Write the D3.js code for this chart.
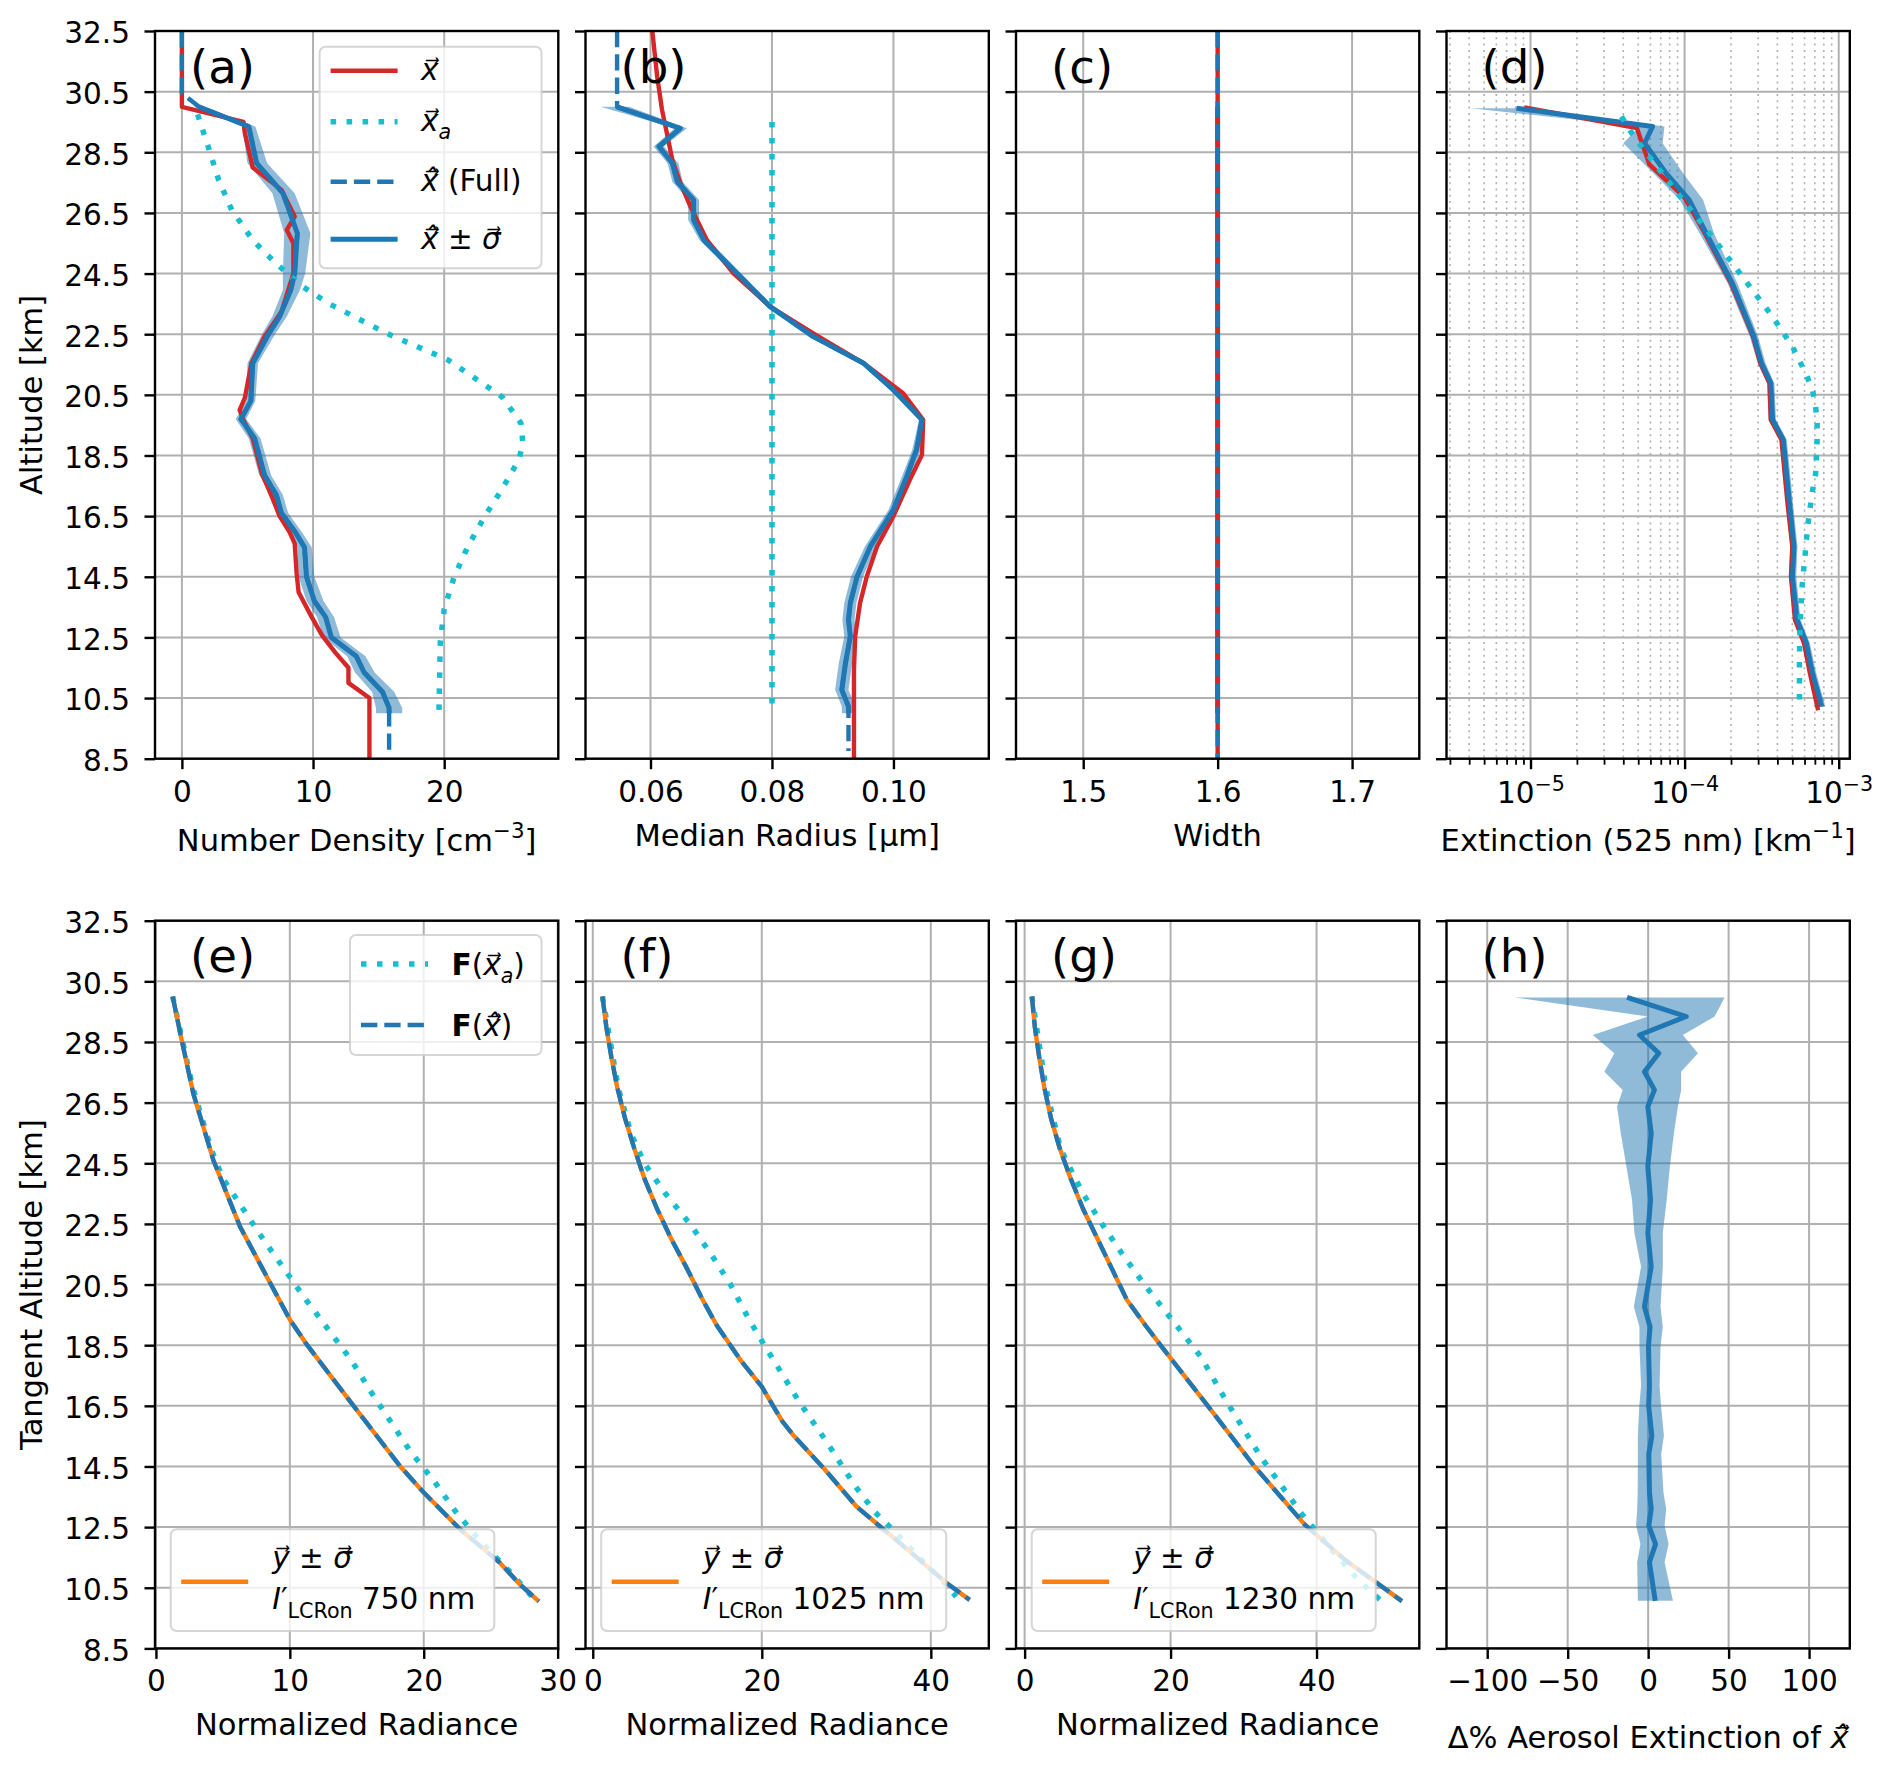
<!DOCTYPE html>
<html>
<head>
<meta charset="utf-8">
<script src="https://cdnjs.cloudflare.com/ajax/libs/d3/7.8.5/d3.min.js"></script>
<style>
body { margin: 0; background: #fff; }
svg text { white-space: pre; }
</style>
</head>
<body>
<script>
// ================= DATA =================
// every profile is [altitude km, value]; bands are [altitude, low, high]
const altTicks = [8.5, 10.5, 12.5, 14.5, 16.5, 18.5, 20.5, 22.5, 24.5, 26.5, 28.5, 30.5, 32.5]

// (a) number density
const densTicks = [0, 10, 20]
const densTruth = [[32.5, 0], [30.0, 0], [29.5, 4.7], [29.13, 4.8], [28.0, 5.4], [27.26, 7.6], [26.38, 8.6], [25.94, 8.0], [25.5, 8.5], [24.5, 8.5], [23.25, 7.6], [22.42, 6.3], [21.54, 5.3], [20.4, 4.8], [20.0, 4.4], [19.66, 4.7], [19.06, 5.4], [17.9, 6.1], [17.1, 6.9], [16.5, 7.45], [15.98, 8.2], [15.6, 8.6], [14.6, 8.75], [13.99, 8.9], [13.17, 9.9], [12.56, 10.7], [12.0, 11.7], [11.5, 12.7], [11.0, 12.7], [10.5, 14.3], [8.5, 14.3]]
const densRetr = [[30.0, 1.3], [29.35, 5.1], [28.14, 5.7], [27.15, 7.7], [25.83, 8.8], [24.5, 8.6], [23.96, 8.3], [23.08, 7.45], [22.5, 6.6], [21.54, 5.4], [20.3, 5.26], [19.7, 4.5], [19.06, 5.55], [17.85, 6.3], [17.2, 7.2], [16.6, 7.6], [16.0, 8.6], [15.47, 9.35], [14.5, 9.5], [13.7, 10.1], [13.17, 10.96], [12.5, 11.4], [11.88, 13.3], [11.34, 13.9], [10.7, 15.3], [10.17, 15.8], [10.0, 15.8]]
const densBand = [[30.0, 0.9, 1.7], [29.35, 4.6, 5.6], [28.14, 5.0, 6.5], [27.15, 6.9, 8.6], [25.83, 7.8, 9.8], [24.5, 7.7, 9.4], [23.96, 7.7, 9.0], [23.08, 6.9, 8.0], [22.5, 6.1, 7.1], [21.54, 5.0, 5.8], [20.3, 4.9, 5.6], [19.7, 4.1, 4.9], [19.06, 5.1, 6.0], [17.85, 5.9, 6.8], [17.2, 6.8, 7.7], [16.6, 7.2, 8.1], [16.0, 8.1, 9.1], [15.47, 8.8, 9.9], [14.5, 8.9, 10.1], [13.7, 9.5, 10.8], [13.17, 10.3, 11.6], [12.5, 10.8, 12.1], [11.88, 12.6, 14.0], [11.34, 13.2, 14.7], [10.7, 14.5, 16.2], [10.17, 14.8, 16.8], [10.0, 14.8, 16.8]]
const densFullTop = [[32.5, 0], [30.45, 0]]
const densFullBottom = [[8.75, 15.8]]
const densApriori = [[29.75, 1.2], [28.63, 2.05], [27.59, 2.8], [26.6, 3.8], [25.6, 5.4], [24.84, 7.16], [24.07, 9.2], [23.5, 11.25], [22.53, 15.6], [21.65, 20.3], [20.44, 24.4], [19.57, 25.85], [18.9, 26.0], [18.37, 25.7], [17.38, 24.4], [16.5, 23.1], [15.5, 21.8], [14.47, 20.74], [13.43, 20.0], [12.33, 19.7], [10.0, 19.6]]

// (b) median radius
const radiusTicks = [0.06, 0.08, 0.10]
const radiusTruth = [[32.5, 0.0603], [31.0, 0.0611], [29.9, 0.0619], [29.13, 0.0627], [28.25, 0.0636], [27.5, 0.0649], [26.7, 0.0666], [25.6, 0.0693], [24.5, 0.0737], [23.41, 0.0797], [22.53, 0.0868], [21.54, 0.0951], [20.55, 0.1016], [19.68, 0.1049], [18.52, 0.1047], [17.7, 0.1027], [16.5, 0.1], [15.5, 0.0973], [14.5, 0.0956], [13.63, 0.0945], [12.53, 0.0937], [11.43, 0.0935], [8.5, 0.0935]]
const radiusRetr = [[30.0, 0.0545], [29.29, 0.0649], [28.69, 0.0614], [28.14, 0.0636], [27.53, 0.0644], [26.93, 0.0671], [26.27, 0.0671], [25.6, 0.0688], [24.62, 0.0737], [23.41, 0.0797], [22.42, 0.0868], [21.54, 0.0951], [20.66, 0.1], [19.68, 0.1047], [18.69, 0.1038], [17.81, 0.1022], [16.71, 0.1], [15.5, 0.0962], [14.5, 0.094], [13.63, 0.0929], [13.08, 0.0926], [12.53, 0.0929], [11.65, 0.0921], [10.77, 0.0915], [10.22, 0.0926], [10.0, 0.0926]]
const radiusBand = [[30.0, 0.0518, 0.0565], [29.29, 0.0640, 0.0660], [28.69, 0.0605, 0.0622], [28.14, 0.0628, 0.0646], [27.53, 0.0636, 0.0653], [26.93, 0.0662, 0.0680], [26.27, 0.0662, 0.0680], [25.6, 0.0681, 0.0696], [24.62, 0.0730, 0.0744], [23.41, 0.0792, 0.0802], [22.42, 0.0864, 0.0872], [21.54, 0.0947, 0.0955], [20.66, 0.0996, 0.1004], [19.68, 0.1042, 0.1052], [18.69, 0.1031, 0.1045], [17.81, 0.1014, 0.1030], [16.71, 0.0992, 0.1008], [15.5, 0.0953, 0.0971], [14.5, 0.0930, 0.0950], [13.63, 0.0919, 0.0939], [13.08, 0.0916, 0.0936], [12.53, 0.0919, 0.0939], [11.65, 0.0910, 0.0932], [10.77, 0.0904, 0.0926], [10.22, 0.0915, 0.0937], [10.0, 0.0915, 0.0937]]
const radiusFullTop = [[32.5, 0.0545]]
const radiusFullBottom = [[8.75, 0.0926]]
const radiusApriori = [[29.5, 0.08], [10.0, 0.08]]

// (c) width
const widthTicks = [1.5, 1.6, 1.7]
const widthTruth = [[32.5, 1.6], [8.5, 1.6]]
const widthRetr = [[30.0, 1.6], [10.0, 1.6]]
const widthFull = [[32.5, 1.6], [8.5, 1.6]]

// (d) extinction 525 nm
const extTicks = [1e-5, 1e-4, 1e-3]
const extMinorTicks = [3e-6, 4e-6, 5e-6, 6e-6, 7e-6, 8e-6, 9e-6, 2e-5, 3e-5, 4e-5, 5e-5, 6e-5, 7e-5, 8e-5, 9e-5, 2e-4, 3e-4, 4e-4, 5e-4, 6e-4, 7e-4, 8e-4, 9e-4]
const extTruth = [[29.98, 9.1e-6], [29.3, 4.9e-5], [28.1, 5.9e-5], [27.0, 1.0e-4], [25.83, 1.35e-4], [24.18, 2.0e-4], [22.42, 2.78e-4], [21.54, 3.1e-4], [20.88, 3.55e-4], [19.68, 3.62e-4], [19.02, 4.25e-4], [16.93, 4.65e-4], [15.5, 5.0e-4], [14.51, 4.9e-4], [13.08, 5.2e-4], [12.31, 5.95e-4], [11.32, 6.5e-4], [10.1, 7.35e-4]]
const extRetr = [[29.95, 8.1e-6], [29.35, 6.2e-5], [28.8, 5.5e-5], [27.8, 7.6e-5], [26.93, 1.07e-4], [25.83, 1.38e-4], [24.18, 2.04e-4], [22.42, 2.82e-4], [21.54, 3.16e-4], [20.88, 3.63e-4], [19.68, 3.72e-4], [19.02, 4.37e-4], [16.93, 4.79e-4], [15.5, 5.13e-4], [14.51, 5.01e-4], [13.08, 5.37e-4], [12.31, 6.17e-4], [11.32, 6.76e-4], [10.22, 7.76e-4]]
const extBand = [[29.95, 4.1e-6, 1.0e-5], [29.35, 5.1e-5, 7.4e-5], [28.8, 4.0e-5, 7.2e-5], [27.8, 6.3e-5, 9.8e-5], [26.93, 9.3e-5, 1.32e-4], [25.83, 1.25e-4, 1.55e-4], [24.18, 1.9e-4, 2.2e-4], [22.42, 2.65e-4, 3.0e-4], [21.54, 2.98e-4, 3.35e-4], [20.88, 3.45e-4, 3.82e-4], [19.68, 3.52e-4, 3.92e-4], [19.02, 4.15e-4, 4.6e-4], [16.93, 4.55e-4, 5.05e-4], [15.5, 4.85e-4, 5.4e-4], [14.51, 4.75e-4, 5.3e-4], [13.08, 5.1e-4, 5.65e-4], [12.31, 5.85e-4, 6.5e-4], [11.32, 6.4e-4, 7.15e-4], [10.22, 7.35e-4, 8.2e-4]]
const extApriori = [[29.68, 3.89e-5], [29.18, 4.47e-5], [28.69, 5.25e-5], [26.98, 9.55e-5], [25.72, 1.51e-4], [24.84, 2.04e-4], [23.96, 2.75e-4], [23.08, 3.72e-4], [22.09, 5.01e-4], [21.16, 6.17e-4], [20.66, 6.76e-4], [20.12, 7.08e-4], [19.57, 7.24e-4], [18.99, 7.24e-4], [17.89, 7.08e-4], [17.34, 6.76e-4], [16.24, 6.31e-4], [15.14, 6.03e-4], [14.04, 5.75e-4], [12.94, 5.62e-4], [11.84, 5.56e-4], [10.19, 5.56e-4]]

// (e)-(g) normalized radiance
const r750Ticks = [0, 10, 20, 30]
const r750Fit = [[30.0, 1.25], [28.57, 1.92], [26.8, 2.79], [24.6, 4.29], [22.41, 6.28], [20.76, 8.28], [19.33, 10.02], [18.5, 11.3], [16.5, 14.76], [14.5, 18.25], [13.64, 20.0], [12.42, 22.74], [11.32, 25.7], [10.6, 27.2], [10.05, 28.6]]
const r750Apriori = [[30.0, 1.25], [27.0, 2.75], [25.0, 4.1], [24.0, 5.0], [23.0, 6.5], [22.0, 8.0], [21.0, 9.6], [20.0, 11.2], [19.0, 12.9], [18.0, 14.6], [17.0, 16.0], [16.0, 17.5], [15.0, 19.0], [14.0, 20.8], [13.0, 22.4], [12.0, 24.3], [11.0, 26.5], [10.05, 28.4]]
const r1025Ticks = [0, 20, 40]
const r1025Fit = [[30.0, 1.15], [29.0, 1.6], [28.0, 2.2], [27.0, 2.9], [26.0, 3.8], [25.0, 4.9], [24.0, 6.1], [23.0, 7.6], [22.0, 9.3], [21.0, 11.2], [20.0, 13.0], [19.14, 14.7], [18.0, 17.5], [17.13, 20.0], [16.0, 22.4], [15.54, 23.7], [14.45, 27.3], [13.18, 31.2], [12.52, 34.0], [11.7, 37.5], [10.66, 41.85], [10.1, 44.6]]
const r1025Apriori = [[30.0, 1.15], [27.0, 3.0], [25.5, 4.5], [24.5, 6.1], [23.5, 8.6], [22.5, 11.5], [21.5, 14.0], [20.5, 16.3], [19.5, 18.2], [18.97, 19.3], [18.5, 20.3], [17.55, 22.4], [16.6, 24.5], [15.3, 27.7], [13.87, 31.0], [12.99, 33.4], [12.3, 35.9], [11.47, 38.7], [10.7, 41.5], [10.2, 43.0]]
const r1230Ticks = [0, 20, 40]
const r1230Fit = [[30.0, 1.0], [29.0, 1.4], [28.0, 2.0], [27.0, 2.7], [26.0, 3.6], [25.0, 4.8], [24.0, 6.3], [23.0, 8.0], [22.0, 10.0], [21.0, 12.0], [20.0, 14.0], [19.14, 16.6], [18.32, 19.2], [16.5, 25.1], [14.5, 31.5], [12.58, 38.4], [11.42, 43.9], [10.06, 51.7]]
const r1230Apriori = [[30.0, 1.0], [27.0, 2.9], [25.0, 4.9], [24.5, 5.9], [23.5, 8.0], [22.5, 10.6], [21.5, 13.4], [20.5, 16.4], [19.03, 21.2], [18.1, 24.2], [16.67, 27.6], [14.8, 32.4], [12.96, 37.9], [11.75, 42.1], [10.76, 45.7], [10.1, 48.7]]

// (h) percent difference in aerosol extinction
const pctTicks = [-100, -50, 0, 50, 100]
const pctDiff = [[29.97, -13.1], [29.34, 23.7], [28.73, -5.4], [28.13, 6.6], [27.52, -2.3], [26.92, 3.9], [26.37, -0.2], [25.49, 1.9], [24.39, -0.2], [23.29, 1.5], [22.19, -0.2], [21.09, 1.9], [19.77, -2.3], [19.1, 1.2], [18.48, 0.2], [17.16, 0.8], [16.5, 0.3], [15.51, 2.3], [14.91, 0.4], [13.65, 0.8], [13.1, 1.9], [12.55, 0.4], [11.94, 4.6], [11.34, 0.8], [10.07, 4.4]]
const pctBand = [[29.97, -83, 47.5], [29.34, -0.2, 41.3], [28.73, -34.4, 21.6], [28.13, -21, 30.9], [27.52, -27.2, 20.5], [26.92, -15.8, 20.5], [26.37, -19.3, 18.5], [25.49, -17, 16], [24.39, -13.5, 13.5], [23.29, -10, 11.5], [22.19, -8.5, 9.1], [21.09, -4.4, 9.1], [19.77, -8.9, 7.7], [19.1, -5.4, 9.1], [18.48, -5.4, 7.7], [17.16, -4.4, 7.1], [16.5, -5.5, 8], [15.51, -6.4, 9.8], [14.91, -6.4, 8.1], [13.65, -6.5, 9.5], [13.1, -6.8, 11.2], [12.55, -7.5, 10.2], [11.94, -4.8, 12.7], [11.34, -6.8, 10.2], [10.07, -6.4, 15.4]]

// ================= LAYOUT =================
const W = 1892, H = 1766
const col0 = 155, colStep = 430.5, colW = 403.3
const rowTop = [31, 920.7], rowH = 727.7
const FS = 29.5, LFS = 30.5, PFS = 46.7
const C = { red: '#d62728', cyan: '#17becf', blue: '#1f77b4', orange: '#ff7f0e', grid: '#b0b0b0' }

const S = {
    truth: { stroke: C.red, width: 4.4 },
    apriori: { stroke: C.cyan, width: 5.5, dash: '5.5,10.5' },
    full: { stroke: C.blue, width: 4.4, dash: '16.3,7' },
    retr: { stroke: C.blue, width: 5 },
    meas: { stroke: C.orange, width: 4.4 }
}

const svg = d3.select('body').append('svg')
    .attr('width', W)
    .attr('height', H)
    .style('font-family', "'DejaVu Sans', sans-serif")

// ---------- small mathtext helper ----------
// accents are combining marks on the same glyph run (U+20D7 arrow, U+0302 hat)
const VEC = '\u20D7', HAT = '\u0302'

function measure(str, fs, tk) {
    const t = svg.append('text')
        .attr('font-size', fs)
        .attr('font-style', tk.it ? 'italic' : null)
        .attr('font-weight', tk.bold ? 'bold' : null)
        .text(str)
    const w = t.node().getComputedTextLength()
    t.remove()
    return w
}

function drawMath(parent, x, y, tokens, size, anchor) {
    const pieces = []
    let cx = 0
    tokens.forEach((tk) => {
        if (typeof tk === 'string') tk = { t: tk }
        const small = tk.sub || tk.sup
        const fs = small ? size * 0.7 : size
        const dy = tk.sub ? size * 0.28 : tk.sup ? -size * 0.42 : 0
        const s = tk.t + (tk.vec ? VEC : '') + (tk.hat ? HAT : '')
        const w = measure(s, fs, tk)
        pieces.push({ s, x: cx, y: dy, fs, it: tk.it, bold: tk.bold })
        cx += w
    })
    const shift = anchor === 'middle' ? -cx / 2 : anchor === 'end' ? -cx : 0
    const text = parent.append('text')
        .attr('transform', 'translate(' + (x + shift) + ',' + y + ')')
    pieces.forEach((pc) => {
        text.append('tspan')
            .attr('x', pc.x)
            .attr('y', pc.y)
            .attr('font-size', pc.fs)
            .attr('font-style', pc.it ? 'italic' : null)
            .attr('font-weight', pc.bold ? 'bold' : null)
            .text(pc.s)
    })
    return cx
}

const xVec = { t: 'x', it: true, vec: true }
const xHat = { t: 'x', it: true, vec: true, hat: true }
const sigVec = { t: 'σ', it: true, vec: true }

// ---------- panels ----------
function panel(col, row, xScale, xTicks, letter) {
    const left = col0 + col * colStep
    const top = rowTop[row]
    const x = xScale.range([0, colW])
    const y = d3.scaleLinear().domain([8.5, 32.5]).range([rowH, 0])
    const g = svg.append('g').attr('transform', 'translate(' + left + ',' + top + ')')
    const id = 'clip-' + letter
    g.append('clipPath').attr('id', id)
        .append('rect').attr('width', colW).attr('height', rowH)

    const grid = g.append('g')
    grid.selectAll('line.gx').data(xTicks).join('line')
        .attr('class', 'gx')
        .attr('x1', (d) => x(d)).attr('x2', (d) => x(d))
        .attr('y1', 0).attr('y2', rowH)
        .attr('stroke', C.grid).attr('stroke-width', 2)
    grid.selectAll('line.gy').data(altTicks).join('line')
        .attr('class', 'gy')
        .attr('x1', 0).attr('x2', colW)
        .attr('y1', (d) => y(d)).attr('y2', (d) => y(d))
        .attr('stroke', C.grid).attr('stroke-width', 2)

    const plot = g.append('g').attr('clip-path', 'url(#' + id + ')')
    return { g, grid, plot, x, y, left, top, letter, xTicks }
}

function drawLine(p, data, st) {
    const gen = d3.line().x((d) => p.x(d[1])).y((d) => p.y(d[0]))
    p.plot.append('path')
        .datum(data)
        .attr('d', gen)
        .attr('fill', 'none')
        .attr('stroke', st.stroke)
        .attr('stroke-width', st.width)
        .attr('stroke-dasharray', st.dash || null)
        .attr('stroke-linejoin', 'round')
}

function drawBand(p, data) {
    const gen = d3.area().y((d) => p.y(d[0])).x0((d) => p.x(d[1])).x1((d) => p.x(d[2]))
    p.plot.append('path')
        .datum(data)
        .attr('d', gen)
        .attr('fill', C.blue)
        .attr('fill-opacity', 0.5)
}

function styleAxis(a) {
    a.attr('font-family', null).attr('font-size', null)
    a.select('.domain').remove()
    a.selectAll('.tick line').attr('stroke', '#000').attr('stroke-width', 2.4)
    a.selectAll('.tick text').attr('fill', '#000').attr('font-size', FS)
}

function finish(p, fmt, yLabels) {
    p.g.append('rect')
        .attr('width', colW).attr('height', rowH)
        .attr('fill', 'none').attr('stroke', '#000').attr('stroke-width', 2.4)
    const ax = p.g.append('g')
        .attr('transform', 'translate(0,' + rowH + ')')
        .call(d3.axisBottom(p.x).tickValues(p.xTicks).tickFormat(fmt).tickSize(10.5).tickPadding(11.5))
    styleAxis(ax)
    const ay = p.g.append('g')
        .call(d3.axisLeft(p.y).tickValues(altTicks)
            .tickFormat(yLabels ? d3.format('.1f') : () => '')
            .tickSize(10.5).tickPadding(14.5))
    styleAxis(ay)
    ay.selectAll('.tick text').attr('dy', '0.4em')
    p.g.append('text')
        .attr('x', 35).attr('y', 51.5)
        .attr('font-size', PFS)
        .text('(' + p.letter + ')')
    return ax
}

function legendBox(x, y, w, h) {
    svg.append('rect')
        .attr('x', x).attr('y', y).attr('width', w).attr('height', h)
        .attr('rx', 6).attr('ry', 6)
        .attr('fill', '#fff').attr('fill-opacity', 0.8)
        .attr('stroke', '#cccccc').attr('stroke-opacity', 0.8).attr('stroke-width', 2)
}

function handle(x, y, st) {
    svg.append('line')
        .attr('x1', x).attr('x2', x + 67).attr('y1', y).attr('y2', y)
        .attr('stroke', st.stroke)
        .attr('stroke-width', st.width)
        .attr('stroke-dasharray', st.dash || null)
}

const fullProfile = (top, mid, bottom) => top.concat(mid, bottom)

// ================= TOP ROW =================
const pa = panel(0, 0, d3.scaleLinear().domain([-2.05, 28.7]), densTicks, 'a')
drawBand(pa, densBand)
drawLine(pa, densTruth, S.truth)
drawLine(pa, densRetr, S.retr)
drawLine(pa, densApriori, S.apriori)
drawLine(pa, fullProfile(densFullTop, densRetr, densFullBottom), S.full)
finish(pa, d3.format('d'), true)

const pb = panel(1, 0, d3.scaleLinear().domain([0.0493, 0.1157]), radiusTicks, 'b')
drawBand(pb, radiusBand)
drawLine(pb, radiusTruth, S.truth)
drawLine(pb, radiusRetr, S.retr)
drawLine(pb, radiusApriori, S.apriori)
drawLine(pb, fullProfile(radiusFullTop, radiusRetr, radiusFullBottom), S.full)
finish(pb, d3.format('.2f'), false)

const pc = panel(2, 0, d3.scaleLinear().domain([1.45, 1.75]), widthTicks, 'c')
drawLine(pc, widthRetr, S.retr)
drawLine(pc, widthTruth, S.truth)
drawLine(pc, widthFull, S.full)
finish(pc, d3.format('.1f'), false)

const pd = panel(3, 0, d3.scaleLog().domain([2.85e-6, 1.18e-3]), extTicks, 'd')
pd.grid.selectAll('line.gm').data(extMinorTicks).join('line')
    .attr('class', 'gm')
    .attr('x1', (d) => pd.x(d)).attr('x2', (d) => pd.x(d))
    .attr('y1', 0).attr('y2', rowH)
    .attr('stroke', C.grid).attr('stroke-width', 1.6).attr('stroke-dasharray', '2,4.3')
drawBand(pd, extBand)
drawLine(pd, extTruth, S.truth)
drawLine(pd, extRetr, S.retr)
drawLine(pd, extApriori, S.apriori)
const axd = finish(pd, () => '', false)
axd.selectAll('.tick text').each(function (d) {
    const t = d3.select(this).text(null).attr('dy', '0.76em')
    t.append('tspan').text('10')
    t.append('tspan')
        .attr('font-size', FS * 0.7)
        .attr('dy', -FS * 0.42)
        .text('−' + Math.round(-Math.log10(d)))
})
const axdMinor = pd.g.append('g')
    .attr('transform', 'translate(0,' + rowH + ')')
    .call(d3.axisBottom(pd.x).tickValues(extMinorTicks).tickFormat(() => '').tickSize(6))
axdMinor.select('.domain').remove()
axdMinor.selectAll('.tick line').attr('stroke', '#000').attr('stroke-width', 1.8)

// top row axis labels
const topBase = rowTop[0] + rowH
drawMath(svg, col0 + colW / 2, topBase + 92, ['Number Density [cm', { t: '−3', sup: true }, ']'], LFS, 'middle')
drawMath(svg, col0 + colStep + colW / 2, topBase + 87, ['Median Radius [μm]'], LFS, 'middle')
drawMath(svg, col0 + 2 * colStep + colW / 2, topBase + 87, ['Width'], LFS, 'middle')
drawMath(svg, col0 + 3 * colStep + colW / 2, topBase + 92, ['Extinction (525 nm) [km', { t: '−1', sup: true }, ']'], LFS, 'middle')
svg.append('text')
    .attr('transform', 'translate(42,' + (rowTop[0] + rowH / 2) + ') rotate(-90)')
    .attr('text-anchor', 'middle')
    .attr('font-size', LFS)
    .text('Altitude [km]')

// legend (a)
{
    const bx = 319.6, by = 46.7
    legendBox(bx, by, 221.9, 221.6)
    const rows = [70.7, 121.7, 181.7, 239.3]
    const hx = bx + 11, tx = bx + 101.5
    handle(hx, rows[0], S.truth)
    drawMath(svg, tx, rows[0] + 9.5, [xVec], FS, 'start')
    handle(hx, rows[1], S.apriori)
    drawMath(svg, tx, rows[1] + 9.5, [xVec, { t: 'a', it: true, sub: true }], FS, 'start')
    handle(hx, rows[2], S.full)
    drawMath(svg, tx, rows[2] + 9.5, [xHat, ' (Full)'], FS, 'start')
    handle(hx, rows[3], S.retr)
    drawMath(svg, tx, rows[3] + 9.5, [xHat, ' ± ', sigVec], FS, 'start')
}

// ================= BOTTOM ROW =================
const radiancePanels = [
    { col: 0, letter: 'e', domain: [-0.07, 30.05], ticks: r750Ticks, fit: r750Fit, apr: r750Apriori, nm: '750', boxW: 323.6 },
    { col: 1, letter: 'f', domain: [-0.86, 46.86], ticks: r1025Ticks, fit: r1025Fit, apr: r1025Apriori, nm: '1025', boxW: 345 },
    { col: 2, letter: 'g', domain: [-1.18, 54.08], ticks: r1230Ticks, fit: r1230Fit, apr: r1230Apriori, nm: '1230', boxW: 344 }
]
const botBase = rowTop[1] + rowH

radiancePanels.forEach((cfg) => {
    const p = panel(cfg.col, 1, d3.scaleLinear().domain(cfg.domain), cfg.ticks, cfg.letter)
    drawLine(p, cfg.apr, S.apriori)
    drawLine(p, cfg.fit, S.meas)
    drawLine(p, cfg.fit, S.full)
    finish(p, d3.format('d'), cfg.col === 0)
    drawMath(svg, p.left + colW / 2, botBase + 87, ['Normalized Radiance'], LFS, 'middle')

    // lower legend
    const bx = p.left + 15.7, by = 1529.3
    legendBox(bx, by, cfg.boxW, 101.7)
    handle(bx + 10.5, 1581.7, S.meas)
    drawMath(svg, bx + 101.5, 1567.7, [{ t: 'y', it: true, vec: true }, ' ± ', sigVec], FS, 'start')
    drawMath(svg, bx + 101.5, 1609.3, [{ t: 'I', it: true }, '′', { t: 'LCRon', sub: true }, ' ' + cfg.nm + ' nm'], FS, 'start')
})

// upper legend (e)
{
    const bx = 350, by = 935
    legendBox(bx, by, 191.5, 120)
    handle(bx + 11, 964, S.apriori)
    drawMath(svg, bx + 101.5, 964 + 11, [{ t: 'F', bold: true }, '(', xVec, { t: 'a', it: true, sub: true }, ')'], FS, 'start')
    handle(bx + 11, 1025, S.full)
    drawMath(svg, bx + 101.5, 1025 + 11, [{ t: 'F', bold: true }, '(', xHat, ')'], FS, 'start')
}

// (h)
const ph = panel(3, 1, d3.scaleLinear().domain([-125.3, 125.3]), pctTicks, 'h')
drawBand(ph, pctBand)
drawLine(ph, pctDiff, S.retr)
finish(ph, d3.format('d'), false)
drawMath(svg, ph.left + colW / 2, botBase + 100, ['Δ% Aerosol Extinction of ', xHat], LFS, 'middle')

svg.append('text')
    .attr('transform', 'translate(42,' + (rowTop[1] + rowH / 2) + ') rotate(-90)')
    .attr('text-anchor', 'middle')
    .attr('font-size', LFS)
    .text('Tangent Altitude [km]')
</script>
</body>
</html>
